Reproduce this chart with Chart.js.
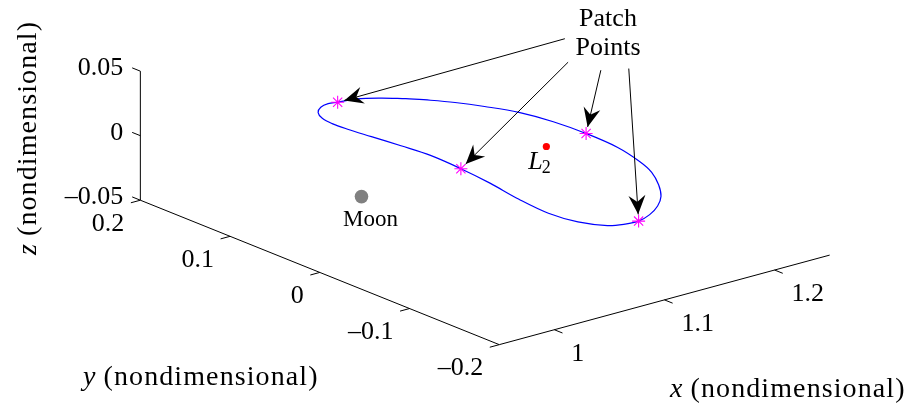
<!DOCTYPE html>
<html>
<head>
<meta charset="utf-8">
<script src="https://cdn.jsdelivr.net/npm/chart.js@4.4.1/dist/chart.umd.min.js"></script>
<style>
  html, body { margin: 0; padding: 0; background: #ffffff; }
  #wrap { width: 912px; height: 411px; position: relative; }
</style>
</head>
<body>
<div id="wrap"><canvas id="orbitChart"></canvas></div>
<script>
// Axis limits and ticks (nondimensional Earth-Moon rotating frame)
const xLimits = [0.95, 1.25];
const yLimits = [-0.2, 0.2];
const zLimits = [-0.05, 0.05];
const xTicks = [1, 1.1, 1.2];
const yTicks = [-0.2, -0.1, 0, 0.1, 0.2];
const zTicks = [-0.05, 0, 0.05];
const xTickLabels = ['1', '1.1', '1.2'];
const yTickLabels = ['–0.2', '–0.1', '0', '0.1', '0.2'];
const zTickLabels = ['–0.05', '0', '0.05'];

// Periodic orbit about L2 (one revolution, closed)
const orbitX = [1.1439, 1.1552, 1.1655, 1.1761, 1.1868, 1.1929, 1.1948, 1.1932, 1.1860, 1.1781,
                1.1650, 1.1507, 1.1359, 1.1199, 1.1052, 1.0938, 1.0823, 1.0712, 1.0669, 1.0697,
                1.0758, 1.0794, 1.0808, 1.0778, 1.0741, 1.0711, 1.0703, 1.0721, 1.0776, 1.0862,
                1.0950, 1.1021, 1.1170, 1.1313, 1.1439];
const orbitY = [0.1421, 0.1285, 0.1138, 0.0939, 0.0688, 0.0379, 0.0037, -0.0330, -0.0671, -0.0899,
                -0.1137, -0.1339, -0.1483, -0.1591, -0.1648, -0.1637, -0.1582, -0.1389, -0.1113, -0.0750,
                -0.0347, 0.0016, 0.0372, 0.0664, 0.0948, 0.1185, 0.1339, 0.1471, 0.1585, 0.1661,
                0.1687, 0.1668, 0.1638, 0.1541, 0.1421];
const orbitZ = orbitX.map(() => 0);

// Patch points used by the multiple-shooting corrector
const patchX = [1.1021, 1.0794, 1.1948, 1.1052];
const patchY = [0.1668, 0.0016, 0.0037, -0.1648];
const patchZ = [0, 0, 0, 0];

// Moon and the L2 libration point
const moonPos = [0.98785, 0, 0];
const l2Pos = [1.1557, 0, 0];

// Text
const axisTitles = { x: 'x', y: 'y', z: 'z', unit: ' (nondimensional)' };
const calloutLines = ['Patch', 'Points'];
const moonLabel = 'Moon';

// Orthographic view of the 3-D box: page position of the (xmin, ymin, zmin) corner
// and the page offset produced by one unit along each data axis.
const view = {
  anchor: [xLimits[0], yLimits[0], zLimits[0]],
  anchorPx: [500, 350],
  ex: [1120, -310],
  ey: [-912.5, -375],
  ez: [0, -1340]
};
function project(x, y, z) {
  const a = x - view.anchor[0], b = y - view.anchor[1], c = z - view.anchor[2];
  return {
    x: view.anchorPx[0] + a * view.ex[0] + b * view.ey[0] + c * view.ez[0],
    y: view.anchorPx[1] + a * view.ex[1] + b * view.ey[1] + c * view.ez[1]
  };
}

// Callout layout ("Patch Points" annotation)
const callout = {
  cx: 608, baselines: [26, 55],
  tails: [[566.7, 32.3], [570, 56.7], [603.3, 65], [631.7, 63.3]],
  tipGap: 7
};

const SERIF = '"Liberation Serif", "Times New Roman", serif';
const black = '#000000';

function seg(p, q, extra) {
  return Object.assign({
    data: [p, q], showLine: true, borderColor: black, borderWidth: 1,
    pointRadius: 0, pointHoverRadius: 0, tension: 0, fill: false
  }, extra || {});
}

const datasets = [];

// Callout arrows (shafts; heads are added by a plugin)
patchX.forEach((px, i) => {
  const p = project(px, patchY[i], patchZ[i]);
  const t = { x: callout.tails[i][0], y: callout.tails[i][1] };
  const dx = p.x - t.x, dy = p.y - t.y, L = Math.hypot(dx, dy);
  const tip = { x: p.x - callout.tipGap * dx / L, y: p.y - callout.tipGap * dy / L };
  datasets.push(seg(t, tip, { arrow: true }));
});

// Patch points
datasets.push({
  data: patchX.map((x, i) => project(x, patchY[i], patchZ[i])),
  pointStyle: 'star', pointRadius: 6.5, pointBorderColor: '#ff00ff', pointBackgroundColor: '#ff00ff',
  pointBorderWidth: 1.1, showLine: false
});

// L2 and Moon
datasets.push({
  data: [project(...l2Pos)], pointStyle: 'circle', pointRadius: 3.6,
  pointBackgroundColor: '#ff0000', pointBorderColor: '#ff0000', pointBorderWidth: 0, showLine: false
});
datasets.push({
  data: [project(...moonPos)], pointStyle: 'circle', pointRadius: 6.8,
  pointBackgroundColor: '#808080', pointBorderColor: '#808080', pointBorderWidth: 0, showLine: false
});

// Orbit
datasets.push({
  data: orbitX.map((x, i) => project(x, orbitY[i], orbitZ[i])),
  showLine: true, borderColor: '#0000ff', borderWidth: 1.2, pointRadius: 0, tension: 0.35, fill: false
});

// Axis lines
datasets.push(seg(project(xLimits[0], yLimits[1], zLimits[0]), project(xLimits[0], yLimits[1], zLimits[1])));
datasets.push(seg(project(xLimits[0], yLimits[1], zLimits[0]), project(xLimits[0], yLimits[0], zLimits[0])));
datasets.push(seg(project(xLimits[0], yLimits[0], zLimits[0]), project(xLimits[1], yLimits[0], zLimits[0])));

// Tick marks, drawn along the neighbouring axis direction
const tickY = 0.0091, tickX = 0.0086;
zTicks.forEach(z => datasets.push(seg(project(xLimits[0], yLimits[1], z), project(xLimits[0], yLimits[1] + tickY, z))));
yTicks.forEach(y => datasets.push(seg(project(xLimits[0], y, zLimits[0]), project(xLimits[0] - tickX, y, zLimits[0]))));
xTicks.forEach(x => datasets.push(seg(project(x, yLimits[0], zLimits[0]), project(x, yLimits[0] - tickY, zLimits[0]))));

// Arrowheads at the end of each callout shaft
const arrowHeads = {
  id: 'arrowHeads',
  afterDatasetsDraw(chart) {
    const ctx = chart.ctx;
    chart.data.datasets.forEach((ds, i) => {
      if (!ds.arrow) return;
      const pts = chart.getDatasetMeta(i).data;
      const a = pts[0], b = pts[pts.length - 1];
      const ang = Math.atan2(b.y - a.y, b.x - a.x);
      const len = 19, half = 8.5, notch = 12.5;
      ctx.save();
      ctx.translate(b.x, b.y);
      ctx.rotate(ang);
      ctx.beginPath();
      ctx.moveTo(0, 0);
      ctx.lineTo(-len, -half);
      ctx.quadraticCurveTo(-notch - 1.5, -2, -notch, 0);
      ctx.quadraticCurveTo(-notch - 1.5, 2, -len, half);
      ctx.closePath();
      ctx.fillStyle = black;
      ctx.fill();
      ctx.restore();
    });
  }
};

// Tick labels, axis titles and annotations
const textLayer = {
  id: 'textLayer',
  afterDraw(chart) {
    const ctx = chart.ctx;
    const sx = chart.scales.x, sy = chart.scales.y;
    const px = p => ({ x: sx.getPixelForValue(p.x), y: sy.getPixelForValue(p.y) });
    ctx.save();
    ctx.fillStyle = black;
    ctx.textBaseline = 'alphabetic';

    ctx.font = '26px ' + SERIF;
    ctx.textAlign = 'right';
    zTicks.forEach((z, i) => {
      const p = px(project(xLimits[0], yLimits[1], z));
      ctx.fillText(zTickLabels[i], p.x - 17, p.y + 4);
    });
    yTicks.forEach((y, i) => {
      const p = px(project(xLimits[0], y, zLimits[0]));
      ctx.fillText(yTickLabels[i], p.x - 16, p.y + 30.5);
    });
    ctx.textAlign = 'left';
    xTicks.forEach((x, i) => {
      const p = px(project(x, yLimits[0], zLimits[0]));
      ctx.fillText(xTickLabels[i], p.x + 17, p.y + 31);
    });

    // Axis titles: italic variable + upright unit text
    function title(v, x0, y0, rot) {
      ctx.save();
      ctx.translate(x0, y0);
      ctx.rotate(rot);
      ctx.textAlign = 'left';
      ctx.font = 'italic 28px ' + SERIF;
      ctx.fillText(v, 0, 0);
      const w = ctx.measureText(v).width;
      ctx.font = '28px ' + SERIF;
      ctx.letterSpacing = '1.1px';
      ctx.fillText(axisTitles.unit, w, 0);
      ctx.letterSpacing = '0px';
      ctx.restore();
    }
    title(axisTitles.y, 83, 385, 0);
    title(axisTitles.x, 670, 397, 0);
    title(axisTitles.z, 36, 255, -Math.PI / 2);

    // Callout text
    ctx.textAlign = 'center';
    ctx.font = '26px ' + SERIF;
    calloutLines.forEach((t, i) => ctx.fillText(t, callout.cx, callout.baselines[i]));

    // Moon label under its marker
    const m = px(project(...moonPos));
    ctx.font = '23px ' + SERIF;
    ctx.fillText(moonLabel, m.x + 9, m.y + 29);

    // L2 label with subscript
    const l = px(project(...l2Pos));
    ctx.textAlign = 'left';
    ctx.font = 'italic 26px ' + SERIF;
    const lx = l.x - 18, ly = l.y + 23;
    ctx.fillText('L', lx, ly);
    const lw = ctx.measureText('L').width;
    ctx.font = '18px ' + SERIF;
    ctx.fillText('2', lx + lw - 1, ly + 4);
    ctx.restore();
  }
};

new Chart(document.getElementById('orbitChart'), {
  type: 'scatter',
  data: { datasets },
  options: {
    responsive: true,
    maintainAspectRatio: false,
    devicePixelRatio: 1,
    animation: false,
    events: [],
    layout: { padding: 0 },
    plugins: { legend: { display: false }, tooltip: { enabled: false }, title: { display: false } },
    scales: {
      x: { type: 'linear', min: 0, max: 912, display: false },
      y: { type: 'linear', min: 0, max: 411, reverse: true, display: false }
    }
  },
  plugins: [arrowHeads, textLayer]
});
</script>
</body>
</html>
